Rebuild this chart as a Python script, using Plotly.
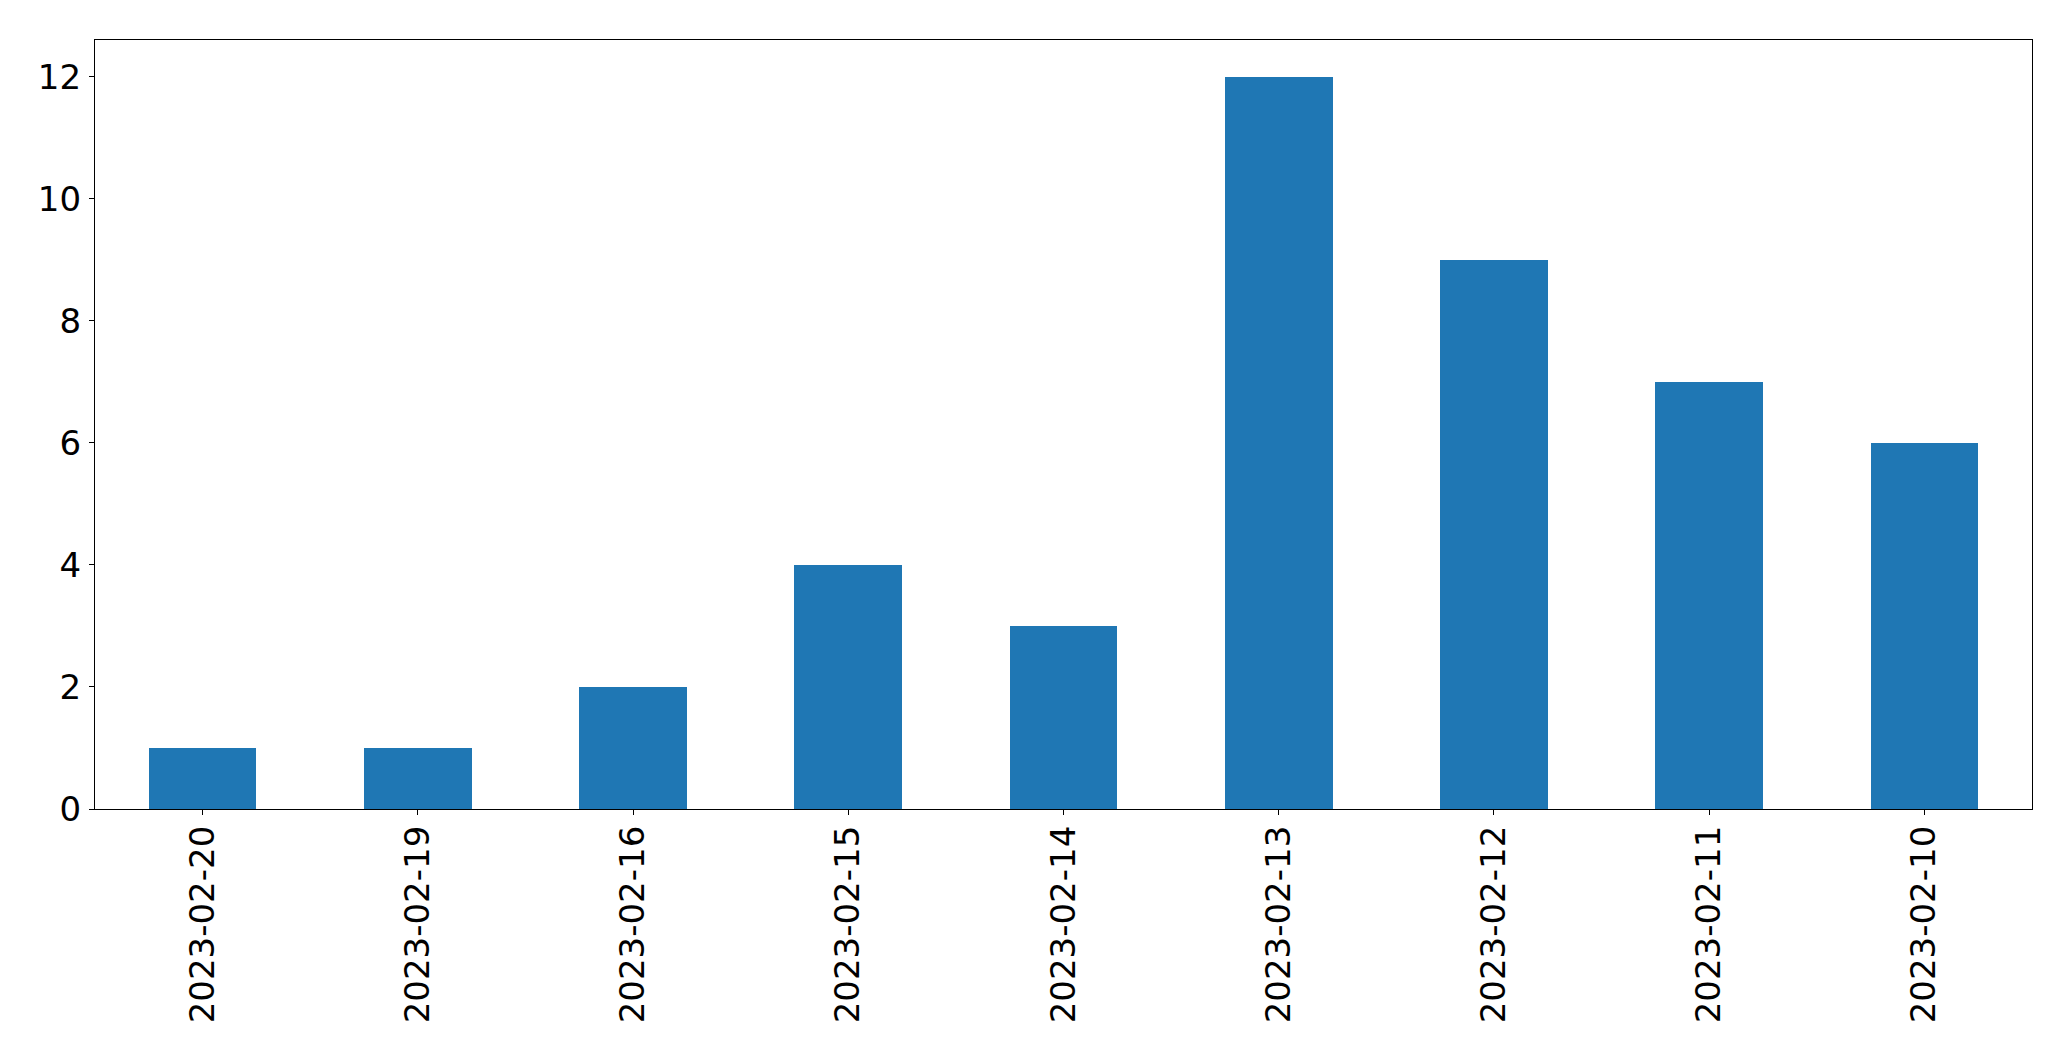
import plotly.graph_objects as go

dates = ["2023-02-20", "2023-02-19", "2023-02-16", "2023-02-15", "2023-02-14",
         "2023-02-13", "2023-02-12", "2023-02-11", "2023-02-10"]
counts = [1, 1, 2, 4, 3, 12, 9, 7, 6]
y_ticks = [0, 2, 4, 6, 8, 10, 12]

fig = go.Figure(go.Bar(x=dates, y=counts, width=0.5,
                       marker=dict(color="#1f77b4", line=dict(width=0))))

font = dict(family="DejaVu Sans", size=34, color="black")
fig.update_layout(
    width=2071, height=1061,
    margin=dict(l=87, r=47, t=32, b=260),
    paper_bgcolor="white", plot_bgcolor="white",
    font=font, showlegend=False, bargap=0,
)
fig.update_xaxes(type="category", range=[-0.5, 8.5], tickangle=-90,
                 showline=True, mirror=True, linecolor="black", linewidth=1.3,
                 ticks="outside", ticklen=5, tickwidth=1.3, tickcolor="black",
                 showgrid=False, zeroline=False, tickfont=font, ticklabelstandoff=-3)
fig.update_yaxes(range=[0, 12.6], tickvals=y_ticks,
                 showline=True, mirror=True, linecolor="black", linewidth=1.3,
                 ticks="outside", ticklen=5, tickwidth=1.3, tickcolor="black",
                 showgrid=False, zeroline=False, tickfont=font, ticklabelstandoff=1)
fig.write_html("out.html")
